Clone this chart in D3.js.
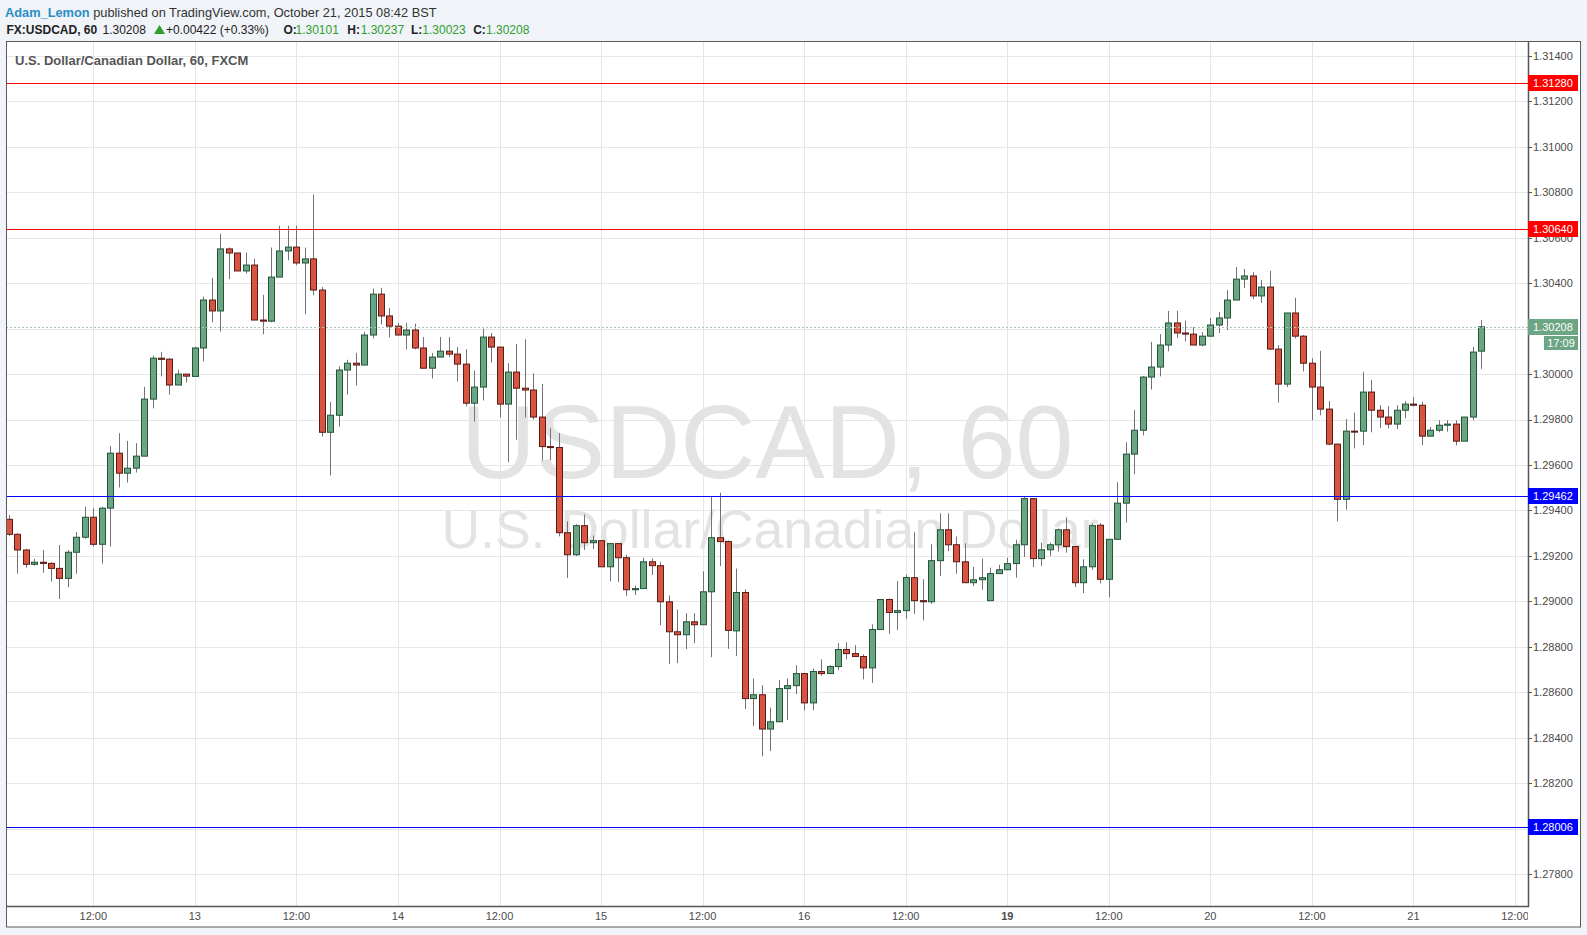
<!DOCTYPE html>
<html><head><meta charset="utf-8">
<script src="https://cdn.jsdelivr.net/npm/d3@7"></script>
<style>
html,body{margin:0;padding:0;background:#f0f3f7;overflow:hidden}
svg{display:block}
</style></head><body>
<svg id="c" width="1587" height="935"></svg>
<script>
// ---------------- DATA ----------------
const opens = [1.29361,1.29295,1.29226,1.29163,1.29172,1.29167,1.29145,1.29101,1.29216,1.29282,
1.29370,1.29251,1.29410,1.29652,1.29564,1.29586,1.29639,1.29890,1.30070,1.30066,
1.29952,1.30000,1.29990,1.30115,1.30326,1.30278,1.30551,1.30533,1.30454,1.30480,
1.30238,1.30233,1.30427,1.30542,1.30559,1.30489,1.30507,1.30370,1.29744,1.29819,
1.30018,1.30048,1.30040,1.30172,1.30352,1.30256,1.30211,1.30172,1.30194,1.30115,
1.30026,1.30075,1.30101,1.30088,1.30044,1.29872,1.29943,1.30163,1.30119,1.29868,
1.30009,1.29938,1.29930,1.29811,1.29681,1.29677,1.29302,1.29205,1.29333,1.29258,
1.29267,1.29152,1.29254,1.29192,1.29051,1.29056,1.29174,1.29157,1.28998,1.28866,
1.28853,1.28910,1.28897,1.29042,1.29280,1.29263,1.28870,1.29039,1.28572,1.28589,
1.28438,1.28470,1.28616,1.28629,1.28682,1.28553,1.28691,1.28682,1.28713,1.28788,
1.28770,1.28757,1.28707,1.28876,1.29008,1.28951,1.28959,1.29104,1.29003,1.28998,
1.29179,1.29315,1.29249,1.29174,1.29082,1.29095,1.29003,1.29122,1.29139,1.29166,
1.29249,1.29452,1.29188,1.29227,1.29249,1.29315,1.29241,1.29082,1.29152,1.29335,
1.29097,1.29273,1.29432,1.29648,1.29753,1.29987,1.30031,1.30128,1.30225,1.30181,
1.30176,1.30128,1.30167,1.30216,1.30247,1.30326,1.30418,1.30432,1.30344,1.30383,
1.30110,1.29956,1.30269,1.30167,1.30048,1.29943,1.29846,1.29692,1.29449,1.29749,
1.29749,1.29921,1.29841,1.29811,1.29780,1.29841,1.29868,1.29863,1.29727,1.29753,
1.29775,1.29780,1.29705,1.29811,1.30101];
const highs = [1.29380,1.29300,1.29231,1.29187,1.29226,1.29172,1.29248,1.29226,1.29305,1.29416,
1.29410,1.29416,1.29684,1.29740,1.29706,1.29696,1.29944,1.30081,1.30098,1.30070,
1.30019,1.30000,1.30120,1.30341,1.30424,1.30618,1.30557,1.30533,1.30535,1.30508,
1.30349,1.30557,1.30653,1.30653,1.30653,1.30557,1.30790,1.30383,1.29878,1.30034,
1.30063,1.30094,1.30186,1.30376,1.30380,1.30291,1.30225,1.30226,1.30222,1.30163,
1.30093,1.30163,1.30163,1.30119,1.30110,1.30015,1.30200,1.30181,1.30119,1.30048,
1.30132,1.30154,1.30004,1.29957,1.29762,1.29740,1.29352,1.29339,1.29382,1.29290,
1.29267,1.29254,1.29254,1.29205,1.29069,1.29192,1.29188,1.29174,1.29026,1.28964,
1.28948,1.28948,1.29132,1.29461,1.29478,1.29268,1.29144,1.29053,1.28660,1.28631,
1.28532,1.28653,1.28660,1.28719,1.28682,1.28704,1.28745,1.28719,1.28816,1.28820,
1.28807,1.28767,1.28899,1.29008,1.29012,1.29089,1.29118,1.29304,1.29097,1.29251,
1.29387,1.29387,1.29285,1.29255,1.29152,1.29188,1.29148,1.29161,1.29192,1.29271,
1.29459,1.29452,1.29258,1.29258,1.29320,1.29370,1.29241,1.29185,1.29342,1.29344,
1.29273,1.29524,1.29700,1.29843,1.29991,1.30142,1.30176,1.30278,1.30278,1.30235,
1.30207,1.30185,1.30247,1.30273,1.30370,1.30471,1.30463,1.30449,1.30414,1.30454,
1.30128,1.30269,1.30336,1.30172,1.30070,1.30103,1.29881,1.29692,1.29802,1.29830,
1.30010,1.29975,1.29863,1.29859,1.29863,1.29881,1.29899,1.29877,1.29767,1.29797,
1.29797,1.29797,1.29811,1.30120,1.30237];
const lows = [1.29288,1.29122,1.29148,1.29157,1.29126,1.29087,1.29010,1.29062,1.29122,1.29275,
1.29241,1.29166,1.29241,1.29501,1.29523,1.29567,1.29639,1.29849,1.29990,1.29910,
1.29952,1.29963,1.29990,1.30056,1.30228,1.30188,1.30418,1.30454,1.30443,1.30238,
1.30175,1.30228,1.30427,1.30501,1.30479,1.30263,1.30347,1.29725,1.29554,1.29769,
1.29910,1.29950,1.30040,1.30157,1.30219,1.30162,1.30172,1.30109,1.30109,1.30026,
1.29981,1.30075,1.30075,1.29968,1.29858,1.29791,1.29884,1.30051,1.29809,1.29612,
1.29711,1.29809,1.29800,1.29620,1.29621,1.29286,1.29103,1.29199,1.29226,1.29230,
1.29152,1.29089,1.29085,1.29023,1.29028,1.29056,1.29116,1.28895,1.28725,1.28728,
1.28790,1.28816,1.28897,1.28754,1.29155,1.28791,1.28760,1.28526,1.28451,1.28318,
1.28341,1.28470,1.28478,1.28592,1.28520,1.28520,1.28672,1.28682,1.28698,1.28745,
1.28757,1.28657,1.28641,1.28876,1.28857,1.28873,1.28923,1.28945,1.28916,1.28989,
1.29111,1.29221,1.29122,1.29082,1.29067,1.29051,1.29003,1.29122,1.29139,1.29104,
1.29195,1.29151,1.29155,1.29199,1.29219,1.29214,1.29063,1.29036,1.29139,1.29079,
1.29018,1.29273,1.29347,1.29559,1.29730,1.29932,1.29990,1.30100,1.30159,1.30144,
1.30128,1.30122,1.30167,1.30181,1.30194,1.30326,1.30379,1.30330,1.30313,1.30106,
1.29875,1.29943,1.30157,1.30012,1.29797,1.29819,1.29687,1.29352,1.29404,1.29673,
1.29687,1.29744,1.29762,1.29761,1.29758,1.29805,1.29858,1.29687,1.29727,1.29744,
1.29747,1.29686,1.29705,1.29797,1.30023];
const closes = [1.29295,1.29226,1.29163,1.29172,1.29167,1.29145,1.29101,1.29216,1.29282,1.29370,
1.29251,1.29410,1.29652,1.29564,1.29586,1.29639,1.29890,1.30070,1.30065,1.29952,
1.30000,1.29991,1.30115,1.30326,1.30278,1.30551,1.30533,1.30454,1.30480,1.30238,
1.30233,1.30427,1.30542,1.30559,1.30489,1.30507,1.30370,1.29744,1.29819,1.30018,
1.30048,1.30040,1.30172,1.30352,1.30256,1.30211,1.30172,1.30194,1.30115,1.30026,
1.30075,1.30101,1.30088,1.30044,1.29872,1.29943,1.30163,1.30119,1.29868,1.30009,
1.29938,1.29930,1.29811,1.29681,1.29677,1.29302,1.29205,1.29333,1.29258,1.29267,
1.29152,1.29254,1.29192,1.29051,1.29056,1.29174,1.29157,1.28998,1.28866,1.28853,
1.28910,1.28897,1.29042,1.29280,1.29263,1.28872,1.29039,1.28572,1.28589,1.28438,
1.28470,1.28616,1.28629,1.28682,1.28553,1.28691,1.28682,1.28713,1.28788,1.28770,
1.28757,1.28707,1.28876,1.29008,1.28951,1.28959,1.29105,1.29003,1.28998,1.29179,
1.29315,1.29249,1.29174,1.29082,1.29095,1.29104,1.29122,1.29139,1.29166,1.29249,
1.29452,1.29188,1.29227,1.29249,1.29315,1.29241,1.29082,1.29152,1.29333,1.29097,
1.29273,1.29432,1.29648,1.29753,1.29987,1.30031,1.30128,1.30225,1.30181,1.30176,
1.30128,1.30167,1.30216,1.30247,1.30326,1.30418,1.30432,1.30344,1.30383,1.30110,
1.29956,1.30269,1.30167,1.30048,1.29943,1.29846,1.29692,1.29449,1.29749,1.29746,
1.29921,1.29841,1.29811,1.29780,1.29841,1.29868,1.29863,1.29727,1.29753,1.29775,
1.29780,1.29705,1.29811,1.30097,1.30208];

const timeTickIndex  = [10,22,34,46,58,70,82,94,106,118,130,142,154,166,178];
const timeTickLabels = ["12:00","13","12:00","14","12:00","15","12:00","16","12:00","19","12:00","20","12:00","21","12:00"];
const priceTicks = [1.278,1.280,1.282,1.284,1.286,1.288,1.290,1.292,1.294,1.296,1.298,1.300,1.302,1.304,1.306,1.308,1.310,1.312,1.314];
const redLevels  = [1.31280, 1.30640];
const blueLevels = [1.29462, 1.28006];
const lastPrice = 1.30208;
const countdown = "17:09";

// ---------------- LAYOUT ----------------
const paneL = 6, paneT = 42, paneR = 1580, paneB = 927;
const plotR = 1528, plotB = 906;
const upFill = "#6ba583", upLine = "#225437", dnFill = "#d75442", dnLine = "#5b1a13", wickCol = "#737375";

const svg = d3.select("#c");
const x = d3.scaleLinear().domain([10, 178]).range([93.3, 1515]);
const y = d3.scaleLinear().domain([1.278, 1.314]).range([874.0, 56.0]);

// pane background
svg.append("rect").attr("x", paneL+0.5).attr("y", paneT-0.5).attr("width", paneR-paneL).attr("height", paneB-paneT+0.5)
  .attr("fill", "#fff").attr("stroke", "#5a5a5a").attr("stroke-width", 1);

const defs = svg.append("defs");
defs.append("clipPath").attr("id", "plotClip").append("rect")
  .attr("x", paneL+1).attr("y", paneT).attr("width", plotR-paneL-1).attr("height", plotB-paneT);
defs.append("clipPath").attr("id", "axisClip").append("rect")
  .attr("x", paneL+1).attr("y", plotB).attr("width", plotR-paneL-1).attr("height", paneB-plotB);

const plot = svg.append("g").attr("clip-path", "url(#plotClip)");

// grid
plot.append("g").selectAll("line").data(priceTicks).join("line")
  .attr("x1", paneL).attr("x2", plotR)
  .attr("y1", d => Math.round(y(d))+0.5).attr("y2", d => Math.round(y(d))+0.5)
  .attr("stroke", "#e6e6e6");
plot.append("g").selectAll("line").data(timeTickIndex).join("line")
  .attr("x1", d => Math.round(x(d))+0.5).attr("x2", d => Math.round(x(d))+0.5)
  .attr("y1", paneT).attr("y2", plotB)
  .attr("stroke", "#e6e6e6");

// watermark
plot.append("text").attr("x", 767).attr("y", 478).attr("text-anchor", "middle")
  .attr("font-family", "'Liberation Sans', Arial, sans-serif").attr("font-size", 104)
  .attr("fill", "#e3e3e3").text("USDCAD, 60");
plot.append("text").attr("x", 770).attr("y", 548).attr("text-anchor", "middle")
  .attr("font-family", "'Liberation Sans', Arial, sans-serif").attr("font-size", 53.5)
  .attr("fill", "#e3e3e3").text("U.S. Dollar/Canadian Dollar");

// title inside plot
plot.append("text").attr("x", 15).attr("y", 65)
  .attr("font-family", "'Liberation Sans', Arial, sans-serif").attr("font-size", 13).attr("font-weight", "bold")
  .attr("fill", "#555").text("U.S. Dollar/Canadian Dollar, 60, FXCM");

// candles
const idx = d3.range(opens.length);
const cg = plot.append("g");
cg.selectAll("line.wick").data(idx).join("line").attr("class", "wick")
  .attr("x1", i => Math.round(x(i))+0.5).attr("x2", i => Math.round(x(i))+0.5)
  .attr("y1", i => y(highs[i])).attr("y2", i => y(lows[i]))
  .attr("stroke", wickCol).attr("stroke-width", 1);
cg.selectAll("rect.body").data(idx).join("rect").attr("class", "body")
  .attr("x", i => Math.round(x(i)) - 2.5)
  .attr("width", 6)
  .attr("y", i => y(Math.max(opens[i], closes[i])))
  .attr("height", i => Math.max(1, Math.abs(y(opens[i]) - y(closes[i]))))
  .attr("fill", i => closes[i] >= opens[i] ? upFill : dnFill)
  .attr("stroke", i => closes[i] >= opens[i] ? upLine : dnLine)
  .attr("stroke-width", 1);

// current price dotted line
plot.append("line").attr("x1", paneL).attr("x2", plotR)
  .attr("y1", Math.round(y(lastPrice))+0.5).attr("y2", Math.round(y(lastPrice))+0.5)
  .attr("stroke", "#a9c4b6").attr("stroke-dasharray", "2,2");

// levels
plot.append("g").selectAll("line").data(redLevels).join("line")
  .attr("x1", paneL).attr("x2", plotR)
  .attr("y1", d => Math.round(y(d))+0.5).attr("y2", d => Math.round(y(d))+0.5)
  .attr("stroke", "#ff0000").attr("stroke-width", 1.2);
plot.append("g").selectAll("line").data(blueLevels).join("line")
  .attr("x1", paneL).attr("x2", plotR)
  .attr("y1", d => Math.round(y(d))+0.5).attr("y2", d => Math.round(y(d))+0.5)
  .attr("stroke", "#0000ff").attr("stroke-width", 1.2);

// axes lines
svg.append("line").attr("x1", plotR+0.5).attr("x2", plotR+0.5).attr("y1", paneT).attr("y2", plotB+1)
  .attr("stroke", "#555").attr("stroke-width", 1.5);
svg.append("line").attr("x1", paneL).attr("x2", plotR+1).attr("y1", plotB+0.5).attr("y2", plotB+0.5)
  .attr("stroke", "#555").attr("stroke-width", 1.5);

const axisFont = "'Liberation Sans', Arial, sans-serif";
// price axis ticks & labels
const pa = svg.append("g");
pa.selectAll("line").data(priceTicks).join("line")
  .attr("x1", plotR).attr("x2", plotR+4)
  .attr("y1", d => Math.round(y(d))+0.5).attr("y2", d => Math.round(y(d))+0.5)
  .attr("stroke", "#555");
pa.selectAll("text").data(priceTicks).join("text")
  .attr("x", plotR+5).attr("y", d => y(d)).attr("dy", "0.35em")
  .attr("font-family", axisFont).attr("font-size", 11).attr("fill", "#4a4a4a")
  .text(d => d3.format(".5f")(d));

// time axis labels
const ta = svg.append("g").attr("clip-path", "url(#axisClip)");
ta.selectAll("text").data(timeTickIndex).join("text")
  .attr("x", d => x(d)).attr("y", 920).attr("text-anchor", "middle")
  .attr("font-family", axisFont).attr("font-size", 11).attr("fill", "#4a4a4a")
  .attr("font-weight", (d, i) => timeTickLabels[i] === "19" ? "bold" : "normal")
  .text((d, i) => timeTickLabels[i]);

// level labels
function priceTag(v, col) {
  const cy = Math.round(y(v));
  svg.append("rect").attr("x", plotR).attr("y", cy - 8).attr("width", 50).attr("height", 16).attr("fill", col);
  svg.append("text").attr("x", plotR+5).attr("y", cy).attr("dy", "0.35em")
    .attr("font-family", axisFont).attr("font-size", 11).attr("fill", "#fff").text(d3.format(".5f")(v));
}
redLevels.forEach(v => priceTag(v, "#ff0000"));
blueLevels.forEach(v => priceTag(v, "#0000ff"));
priceTag(lastPrice, upFill);
{
  const cy = Math.round(y(lastPrice));
  svg.append("rect").attr("x", plotR+16).attr("y", cy + 9).attr("width", 34).attr("height", 14).attr("fill", upFill);
  svg.append("text").attr("x", plotR+33).attr("y", cy + 16).attr("dy", "0.35em").attr("text-anchor", "middle")
    .attr("font-family", axisFont).attr("font-size", 11).attr("fill", "#fff").text(countdown);
}

// header
const hf = "'Liberation Sans', Arial, sans-serif";
const h1 = svg.append("text").attr("x", 5).attr("y", 17).attr("font-family", hf).attr("font-size", 12.8);
h1.append("tspan").attr("fill", "#2a8ec6").attr("font-weight", "bold").text("Adam_Lemon");
h1.append("tspan").attr("fill", "#333").text(" published on TradingView.com, October 21, 2015 08:42 BST");

const g2 = svg.append("g").attr("font-family", hf).attr("font-size", 12);
const green = "#2f9e2f";
const segs = [
  {x: 6.5, t: "FX:USDCAD, 60", b: true, c: "#222"},
  {x: 102.5, t: "1.30208", b: false, c: "#222"},
  {x: 166, t: "+0.00422 (+0.33%)", b: false, c: "#222"},
  {x: 283.5, t: "O:", b: true, c: "#222"},
  {x: 295.5, t: "1.30101", b: false, c: green},
  {x: 347.3, t: "H:", b: true, c: "#222"},
  {x: 360.7, t: "1.30237", b: false, c: green},
  {x: 411, t: "L:", b: true, c: "#222"},
  {x: 422.3, t: "1.30023", b: false, c: green},
  {x: 473.2, t: "C:", b: true, c: "#222"},
  {x: 486, t: "1.30208", b: false, c: green}
];
g2.selectAll("text").data(segs).join("text")
  .attr("x", d => d.x).attr("y", 34)
  .attr("font-weight", d => d.b ? "bold" : "normal")
  .attr("fill", d => d.c).text(d => d.t);
svg.append("path").attr("d", "M154,34 L159.5,25 L165,34 Z").attr("fill", green);
</script>
</body></html>
